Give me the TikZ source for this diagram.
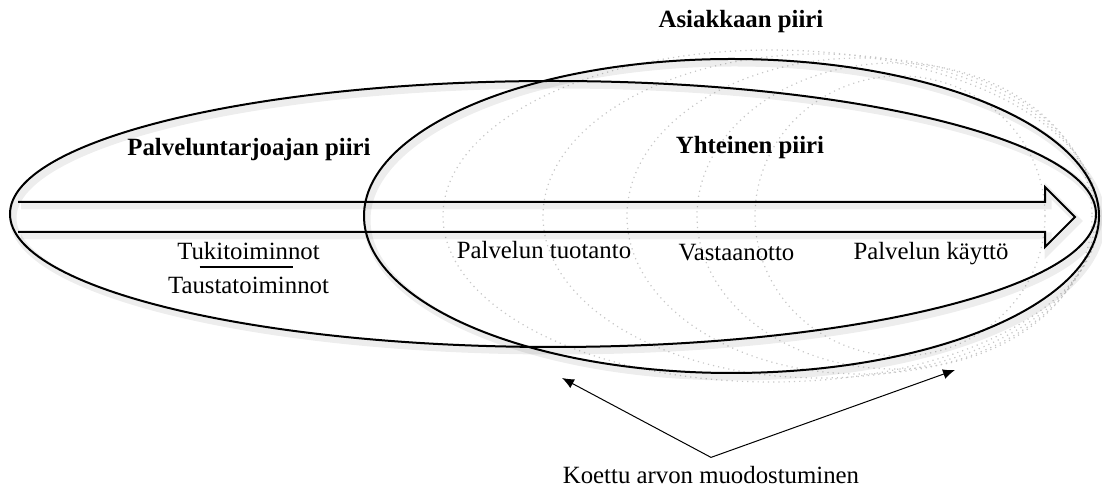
\documentclass[tikz,border=0pt]{standalone}
\usepackage{fontspec}
\setmainfont{Liberation Serif}
\usetikzlibrary{arrows.meta,positioning}

\tikzset{
  piiri/.style={draw, line width=1pt,
    preaction={draw=black, draw opacity=0.07, line width=3.5pt,
      transform canvas={xshift=1.5pt,yshift=-2pt}}},
  haamu/.style={draw=black!22, line width=0.6pt, dotted},
  otsikko/.style={font=\fontsize{12.4}{15}\selectfont\bfseries, inner sep=0pt, anchor=base},
  teksti/.style={font=\fontsize{12.4}{15}\selectfont, inner sep=0pt, anchor=base},
  arvo/.style={draw, line width=0.5pt, -{Latex[length=6pt,width=5pt]}}
}

\begin{document}
\begin{tikzpicture}[x=0.5pt, y=-0.5pt]
        \useasboundingbox (0,0) rectangle (1102,490);

        % Dotted circles of the customer
        \foreach \vasen/\oikea/\korkeus in {443/1099/166, 543/1097/162, 627/1095/158, 697/1092/153, 755/1045/140}
          \draw[haamu] ({(\vasen+\oikea)/2},216) ellipse [x radius={(\oikea-\vasen)/2}, y radius=\korkeus];

        % Circles
        \draw[piiri] (553,214) ellipse [x radius=543, y radius=133];
        \draw[piiri] (731.5,216) ellipse [x radius=367.5, y radius=157];

        % Process arrow
        \draw[piiri] (18,202) -- (1045,202) -- (1045,187) -- (1075,217) -- (1045,247) -- (1045,232) -- (18,232);

        % Labels
        \node[otsikko] (asiakas) at (741,28) {Asiakkaan piiri};
        \node[otsikko] (tarjoaja) at (249,156) {Palveluntarjoajan piiri};
        \node[otsikko] (yhteinen) at (750,154) {Yhteinen piiri};
        \node[teksti] (tuki) at (248.5,260) {Tukitoiminnot};
        \node[teksti, below=17pt of tuki.base, anchor=base] (tausta) {Taustatoiminnot};
        \node[teksti] (tuotanto) at (544,259) {Palvelun tuotanto};
        \node[teksti] (vastaanotto) at (736.5,261) {Vastaanotto};
        \node[teksti] (kaytto) at (931,260) {Palvelun käyttö};
        \node[teksti] (koettu) at (711,484) {Koettu arvon muodostuminen};

        \draw[line width=0.6pt] ([xshift=-24.5pt,yshift=-3.5pt]tuki.base) -- ([xshift=22pt,yshift=-3.5pt]tuki.base);

        % Value arrows
        \coordinate (huippu) at ([yshift=4.5pt]koettu.north);
        \coordinate (alku) at (562,378);
        \coordinate (loppu) at (955,370);
        \draw[arvo] (huippu) -- (alku);
        \draw[arvo] (huippu) -- (loppu);
    \end{tikzpicture}
\end{document}
